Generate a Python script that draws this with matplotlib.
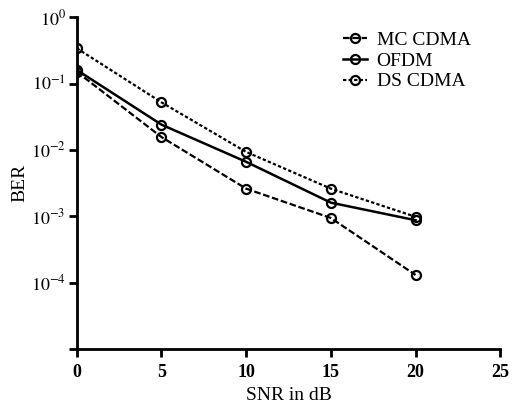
import matplotlib
matplotlib.use("Agg")
import matplotlib.pyplot as plt
from matplotlib.ticker import FixedLocator, FixedFormatter

plt.rcParams['font.family'] = ['Liberation Serif', 'DejaVu Serif']
plt.rcParams['mathtext.fontset'] = 'stix'

snr = [0, 5, 10, 15, 20]
mc_cdma = [0.15, 0.0156, 0.0026, 0.00094, 0.00013]
ofdm = [0.16, 0.024, 0.0066, 0.0016, 0.00087]
ds_cdma = [0.34, 0.052, 0.0093, 0.0026, 0.00098]
labels = ["MC CDMA", "OFDM", "DS CDMA"]
xticks = [0, 5, 10, 15, 20, 25]
yticks = [1e0, 1e-1, 1e-2, 1e-3, 1e-4, 1e-5]
ytick_labels = [r"$10^{0}$", r"$10^{-1}$", r"$10^{-2}$", r"$10^{-3}$", r"$10^{-4}$", ""]

fig = plt.figure(figsize=(5.12, 4.09), dpi=100)
ax = fig.add_axes([0.150, 0.147, 0.827, 0.811])

mk = dict(marker='o', markersize=6.5, markerfacecolor='none', markeredgecolor='black',
          markeredgewidth=1.6, color='black')
ax.plot(snr, mc_cdma, linestyle=(0, (3, 1.2)), linewidth=1.6, label=labels[0], **mk)
ax.plot(snr, ofdm, linestyle='-', linewidth=1.8, label=labels[1], **mk)
ax.plot(snr, ds_cdma, linestyle=(0, (1.5, 1)), linewidth=1.6, label=labels[2], **mk)

ax.set_yscale('log')
ax.set_xlim(0, 25)
ax.set_ylim(1e-5, 1)
ax.xaxis.set_major_locator(FixedLocator(xticks))
ax.yaxis.set_major_locator(FixedLocator(yticks))
ax.yaxis.set_major_formatter(FixedFormatter(ytick_labels))
ax.yaxis.set_minor_locator(FixedLocator([]))

for s in ['top', 'right']:
    ax.spines[s].set_visible(False)
for s in ['left', 'bottom']:
    ax.spines[s].set_linewidth(2.0)
ax.tick_params(axis='both', direction='out', length=6, width=2.0, labelsize=13)
ax.tick_params(axis='x', pad=5)
ax.tick_params(axis='y', pad=2)
for t in ax.get_xticklabels():
    t.set_fontweight('bold')

ax.set_xlabel("SNR in dB", fontsize=14, labelpad=4)
ax.set_ylabel("BER", fontsize=14, labelpad=2)

ax.legend(loc='upper right', bbox_to_anchor=(0.972, 1.01), frameon=False, fontsize=14,
          handlelength=1.25, handletextpad=0.5, labelspacing=0.16)

fig.savefig("out.png", dpi=100)
